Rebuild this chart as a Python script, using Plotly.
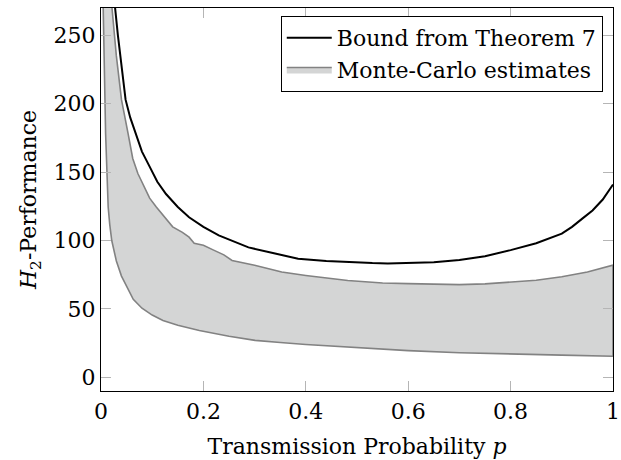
import plotly.graph_objects as go

# Bound from Theorem 7
bound_p = [0.025, 0.027, 0.033, 0.041, 0.048, 0.057, 0.066, 0.08, 0.095, 0.11, 0.127, 0.15,
           0.172, 0.2, 0.23, 0.26, 0.288, 0.34, 0.385, 0.44, 0.482, 0.53, 0.56, 0.6, 0.65,
           0.7, 0.75, 0.8, 0.85, 0.9, 0.92, 0.94, 0.96, 0.98, 1.0]
bound_v = [290, 272, 250, 224, 203, 190, 180, 165, 154, 143, 134, 124.5,
           117, 110, 103.7, 99, 95, 90.5, 86.7, 85, 84.2, 83.5, 83.3, 83.5, 84.2,
           85.8, 88.5, 93, 98, 105, 110, 116, 122, 130, 141]

# Monte-Carlo estimates: upper envelope
upper_p = [0.019, 0.021, 0.03, 0.04, 0.053, 0.062, 0.072, 0.085, 0.095, 0.108, 0.125, 0.14,
           0.159, 0.172, 0.182, 0.2, 0.22, 0.24, 0.256, 0.3, 0.353, 0.4, 0.482, 0.55, 0.6,
           0.65, 0.7, 0.75, 0.8, 0.85, 0.9, 0.95, 1.0]
upper_v = [290, 272, 235, 203, 178, 160, 149, 139, 131, 124.5, 117, 110,
           106, 102.5, 98, 96.5, 93, 89.5, 85.4, 82, 77, 74.5, 70.8, 69, 68.5,
           68, 67.8, 68.3, 69.5, 71, 73.5, 77, 82]

# Monte-Carlo estimates: lower envelope
lower_p = [0.003, 0.0045, 0.006, 0.009, 0.014, 0.017, 0.021, 0.03, 0.04, 0.05, 0.063, 0.08,
           0.1, 0.121, 0.15, 0.192, 0.25, 0.301, 0.35, 0.4, 0.482, 0.55, 0.6, 0.7, 0.8, 0.9, 1.0]
lower_v = [295, 272, 235, 178, 124.5, 112, 100, 85, 74, 66, 57, 50.5,
           45.5, 41.5, 38, 34.2, 30, 27, 25.5, 24, 22, 20.5, 19.5, 18, 17, 16.2, 15.4]

x_ticks = [0, 0.2, 0.4, 0.6, 0.8, 1]
x_labels = ["0", "0.2", "0.4", "0.6", "0.8", "1"]
y_ticks = [0, 50, 100, 150, 200, 250]

FONT = "DejaVu Serif, Liberation Serif, serif"
FS = 22

fig = go.Figure()
fig.add_trace(go.Scatter(
    x=bound_p, y=bound_v, mode="lines", name="Bound from Theorem 7",
    line=dict(color="black", width=2),
))
fig.add_trace(go.Scatter(
    x=upper_p + lower_p[::-1], y=upper_v + lower_v[::-1], mode="lines",
    fill="toself", fillcolor="#d4d5d5", name="Monte-Carlo estimates",
    line=dict(color="#828282", width=1.6),
))

axis_common = dict(
    showline=True, linecolor="black", linewidth=1.3, mirror="ticks",
    ticks="inside", ticklen=10, tickcolor="#b5b5b5", tickwidth=1,
    showgrid=False, zeroline=False, ticklabeloverflow="allow", automargin=False,
    tickfont=dict(family=FONT, size=FS, color="black"),
)

fig.update_layout(
    width=621, height=460,
    margin=dict(l=101, r=8, t=8, b=69),
    paper_bgcolor="white", plot_bgcolor="white",
    font=dict(family=FONT, size=FS, color="black"),
    xaxis=dict(range=[0, 1], tickvals=x_ticks, ticktext=x_labels,
               title=dict(text="Transmission Probability <i>p</i>", font=dict(family=FONT, size=FS), standoff=16),
               **axis_common),
    yaxis=dict(range=[-10, 270], tickvals=y_ticks,
               title=dict(text="<i>H</i><sub>2</sub>-Performance", font=dict(family=FONT, size=FS), standoff=10),
               **axis_common),
    legend=dict(x=0.98, y=0.979, xanchor="right", yanchor="top",
                bordercolor="black", borderwidth=1, bgcolor="white",
                font=dict(family=FONT, size=FS), itemwidth=45,
                tracegroupgap=0),
    showlegend=True,
)

fig.write_html("out.html")
